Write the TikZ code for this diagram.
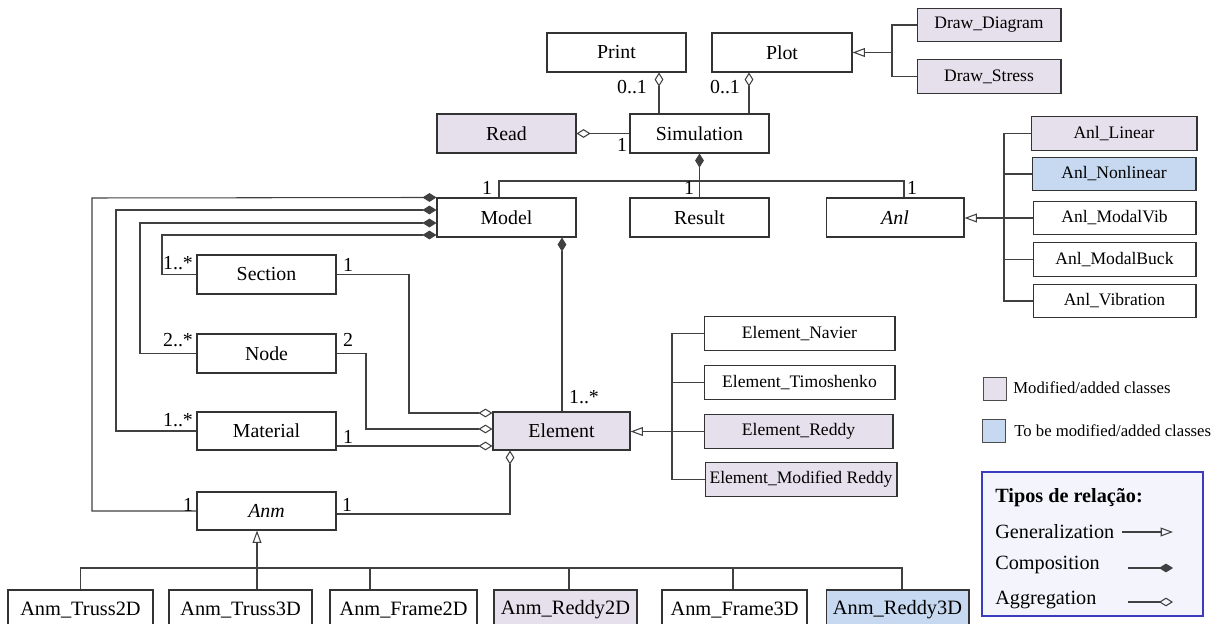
\documentclass[tikz,border=0pt]{standalone}
\usepackage{fontspec}
\setmainfont{Liberation Serif}
\usetikzlibrary{arrows.meta}
\definecolor{lilac}{RGB}{229,224,236}
\definecolor{tobe}{RGB}{198,217,241}
\definecolor{legfill}{RGB}{244,244,252}
\definecolor{legline}{RGB}{60,60,190}
\tikzset{
  cls/.style={draw=black!80, line width=0.6pt, inner sep=0pt, minimum width=2.78cm, minimum height=0.78cm, font=\fontsize{11.3}{13}\selectfont},
  sub/.style={cls, minimum width=3.26cm, minimum height=0.67cm, font=\fontsize{10}{12}\selectfont},
  low/.style={cls, minimum width=2.9cm, minimum height=0.8cm, font=\fontsize{11.6}{13}\selectfont},
  done/.style={fill=lilac},
  todo/.style={fill=tobe},
  mult/.style={inner sep=0pt, font=\fontsize{11.3}{13}\selectfont},
  ln/.style={draw=black!75, line width=0.6pt},
  comp/.style={-{Diamond[length=8pt,width=5pt]}},
  agg/.style={-{Diamond[open,length=8pt,width=5pt]}},
  gen/.style={-{Triangle[open,length=7pt,width=5pt]}}
}
\begin{document}
\begin{tikzpicture}[x=0.02cm, y=-0.02cm]
\useasboundingbox (0,0) rectangle (1219,624);
% top
\node[cls] (print) at (616.5,52.5) {Print};
\node[cls, minimum width=2.8cm] (plot) at (782,52.5) {Plot};
\node[sub, done, minimum width=2.88cm] (drawdiag) at (989,25) {Draw\_Diagram};
\node[sub, done, minimum width=2.88cm] (drawstress) at (989,76.5) {Draw\_Stress};
\node[cls, done] (read) at (506.5,133.5) {Read};
\node[cls] (sim) at (699.5,133.5) {Simulation};
\node[cls] (model) at (506.5,217.5) {Model};
\node[cls] (result) at (699.5,217.5) {Result};
\node[cls, minimum width=2.76cm] (anl) at (895,217.5) {\textit{Anl}};
% analyses
\node[sub, done, minimum width=3.32cm] (anllin) at (1114,133.5) {Anl\_Linear};
\node[sub, todo, minimum width=3.28cm] (anlnon) at (1114,174) {Anl\_Nonlinear};
\node[sub] (anlmv) at (1114.5,218) {Anl\_ModalVib};
\node[sub] (anlmb) at (1114.5,259.5) {Anl\_ModalBuck};
\node[sub] (anlvib) at (1114.5,301) {Anl\_Vibration};
% model parts
\node[cls] (sec) at (266.5,274.5) {Section};
\node[cls] (nod) at (266.5,353.5) {Node};
\node[cls, minimum height=0.76cm] (mat) at (266.5,431) {Material};
\node[cls, minimum height=0.76cm] (anm) at (266.5,511) {\textit{Anm}};
\node[cls, done, minimum width=2.74cm, minimum height=0.76cm] (elem) at (561.5,431) {Element};
% elements
\node[sub, minimum width=3.82cm] (elnav) at (799.5,333.5) {Element\_Navier};
\node[sub, minimum width=3.82cm] (eltim) at (799.5,382.5) {Element\_Timoshenko};
\node[sub, done, minimum width=3.78cm] (elred) at (798.5,431.5) {Element\_Reddy};
\node[sub, done, minimum width=3.84cm] (elmod) at (801,479.5) {Element\_Modified Reddy};
% numerical models
\node[low] (truss2d) at (80.5,610) {Anm\_Truss2D};
\node[low, minimum width=2.86cm] (truss3d) at (240.5,610) {Anm\_Truss3D};
\node[low, minimum width=2.94cm] (frame2d) at (403.5,610) {Anm\_Frame2D};
\node[low, done, minimum width=2.86cm] (reddy2d) at (565.5,610) {Anm\_Reddy2D};
\node[low] (frame3d) at (734.5,610) {Anm\_Frame3D};
\node[low, todo, minimum width=2.86cm] (reddy3d) at (897.5,610) {Anm\_Reddy3D};

% simulation links
\draw[ln, agg] (sim.north -| 659,0) -- (print.south -| 659,0);
\draw[ln, agg] (sim.north -| 749,0) -- (plot.south -| 749,0);
\draw[ln, agg] (sim.west) -- (read.east);
\draw[ln, comp] (result.north) -- (sim.south);
\draw[ln] (model.north -| 499,0) |- (700,181) -| (anl.north -| 904,0);
\coordinate (pj) at (892,52.5);
\draw[ln, gen] (drawdiag.west) -| (pj) -- (plot.east);
\draw[ln] (drawstress.west) -| (pj);
\coordinate (aj) at (1004,0);
\draw[ln, gen] (anlmv.west) -- (anlmv.west -| anl.east);
\draw[ln] (anllin.west) -| (anlvib.west -| aj) -- (anlvib.west);
\draw[ln] (anlnon.west) -- (anlnon.west -| aj);
\draw[ln] (anlmb.west) -- (anlmb.west -| aj);

% model composition
\draw[ln, comp] (anm.west) -| (92,198) -- (model.north west);
\draw[ln, comp] (mat.west) -| (116,210) -- (model.west |- 116,210);
\draw[ln, comp] (nod.west) -| (140,223) -- (model.west |- 140,223);
\draw[ln, comp] (sec.west) -| (162,235) -- (model.west |- 162,235);
\draw[ln, comp] (elem.north -| 562,0) -- (model.south -| 562,0);

% element links
\draw[ln, agg] (sec.east) -| (409,413) -- (elem.west |- 409,413);
\draw[ln, agg] (nod.east) -| (366,429) -- (elem.west |- 366,429);
\draw[ln, agg] (mat.east |- 0,446) -- (elem.west |- 0,446);
\draw[ln, agg] (anm.east |- 0,514) -| (elem.south -| 510,0);
\coordinate (ej) at (672,0);
\draw[ln, gen] (elred.west) -- (elred.west -| elem.east);
\draw[ln] (elnav.west) -| (elmod.west -| ej) -- (elmod.west);
\draw[ln] (eltim.west) -- (eltim.west -| ej);

% anm hierarchy
\draw[ln, gen] (truss3d.north -| 257,0) -- (anm.south -| 257,0);
\draw[ln] (truss2d.north) |- (902,568) -- (reddy3d.north -| 902,0);
\draw[ln] (frame2d.north -| 370,0) -- (370,568);
\draw[ln] (reddy2d.north -| 569,0) -- (569,568);
\draw[ln] (frame3d.north -| 733,0) -- (733,568);

% multiplicities
\node[mult] (m1) at (632,87) {0..1};
\node[mult] (m2) at (725,87) {0..1};
\node[mult] (m3) at (622,145) {1};
\node[mult] (m4) at (487,188) {1};
\node[mult] (m5) at (689,188) {1};
\node[mult] (m6) at (912,188) {1};
\node[mult] (m7) at (584,397) {1..*};
\node[mult] (m8) at (178,263) {1..*};
\node[mult] (m9) at (178,340) {2..*};
\node[mult] (m10) at (178,420) {1..*};
\node[mult] (m11) at (348,265) {1};
\node[mult] (m12) at (348,340) {2};
\node[mult] (m13) at (348,437) {1};
\node[mult] (m14) at (188,505) {1};
\node[mult] (m15) at (347,505) {1};

% legend
\node[draw=black!70, fill=lilac, minimum size=0.46cm, inner sep=0pt] (keymod) at (994.5,389) {};
\node[anchor=west, inner sep=0pt, font=\fontsize{9.5}{11}\selectfont] (keymodt) at (1013,388) {Modified/added classes};
\node[draw=black!70, fill=tobe, minimum size=0.46cm, inner sep=0pt] (keytodo) at (994,430.5) {};
\node[anchor=west, inner sep=0pt, font=\fontsize{9.5}{11}\selectfont] (keytodot) at (1014,431) {To be modified/added classes};
\node[draw=legline, fill=legfill, line width=0.8pt, minimum width=4.42cm, minimum height=2.88cm, inner sep=0pt] (legbox) at (1092.5,544) {};
\node[anchor=west, inner sep=0pt, font=\fontsize{11.5}{13}\selectfont\bfseries] (legt) at (995,498) {Tipos de relação:};
\node[anchor=west, inner sep=0pt, font=\fontsize{11.5}{13}\selectfont] (leggen) at (995,532) {Generalization};
\node[anchor=west, inner sep=0pt, font=\fontsize{11.5}{13}\selectfont] (legcomp) at (995,565) {Composition};
\node[anchor=west, inner sep=0pt, font=\fontsize{11.5}{13}\selectfont] (legagg) at (995,600) {Aggregation};
\coordinate (g1) at (1122,532);
\coordinate (g2) at (1173,532);
\coordinate (c1) at (1128,568);
\coordinate (c2) at (1173,568);
\coordinate (a1) at (1128,602);
\coordinate (a2) at (1173,602);
\draw[ln, gen] (g1) -- (g2);
\draw[ln, comp] (c1) -- (c2);
\draw[ln, agg] (a1) -- (a2);
\end{tikzpicture}
\end{document}
